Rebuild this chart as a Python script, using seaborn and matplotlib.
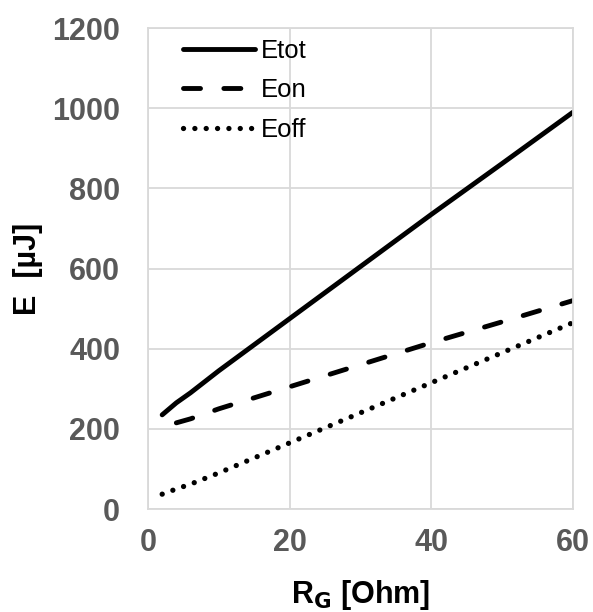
import matplotlib
matplotlib.use('Agg')
import matplotlib.pyplot as plt
import seaborn as sns
import pandas as pd

# values
rg = [2, 4, 6, 10, 20, 30, 40, 50, 60]
e_tot = [235, 265, 290, 345, 475, 605, 735, 862, 990]
rg_on = [4, 6, 10, 20, 30, 40, 50, 60]
e_on = [215, 225, 250, 305, 360, 415, 467, 520]
e_off = [37, 50, 62, 90, 165, 240, 315, 390, 465]

df_tot = pd.DataFrame({'RG': rg, 'E': e_tot})
df_on = pd.DataFrame({'RG': rg_on, 'E': e_on})
df_off = pd.DataFrame({'RG': rg, 'E': e_off})

sns.set_style('white')
plt.rcParams['font.family'] = ['Liberation Sans', 'DejaVu Sans']

fig = plt.figure(figsize=(5.93, 6.12), dpi=100)
ax = fig.add_axes([0.2496, 0.1683, 0.7164, 0.7857])

sns.lineplot(data=df_tot, x='RG', y='E', ax=ax, color='black', label='Etot')
sns.lineplot(data=df_on, x='RG', y='E', ax=ax, color='black', label='Eon')
sns.lineplot(data=df_off, x='RG', y='E', ax=ax, color='black', label='Eoff')

# line styles: solid, long dash, round dots
l_tot, l_on, l_off = ax.lines[:3]
l_tot.set_linewidth(3.5)
l_tot.set_solid_capstyle('round')
l_on.set_linewidth(3.5)
l_on.set_dashes((3.5, 4.8))
l_on.set_dash_capstyle('round')
l_off.set_linewidth(3.8)
l_off.set_dashes((0.01, 2.14))
l_off.set_dash_capstyle('round')

ax.set_xlim(0, 60)
ax.set_ylim(0, 1200)
ax.set_xticks([0, 20, 40, 60])
ax.set_yticks(range(0, 1201, 200))
ax.grid(True, color='#d9d9d9', lw=1.3)
for s in ax.spines.values():
    s.set_color('#d9d9d9')
    s.set_linewidth(1.3)
ax.tick_params(axis='both', length=0, labelsize=22, labelcolor='#595959')
ax.tick_params(axis='x', pad=14)
ax.tick_params(axis='y', pad=20)
for lab in ax.get_xticklabels() + ax.get_yticklabels():
    lab.set_fontweight('bold')

ax.set_xlabel('R$_\\mathbf{G}$ [Ohm]', fontsize=22, fontweight='bold', labelpad=14, color='black')
ax.set_ylabel('E  [µJ]', fontsize=22, fontweight='bold', labelpad=7, color='black')

ax.legend(handles=[l_tot, l_on, l_off], labels=['Etot', 'Eon', 'Eoff'],
          loc='upper left', frameon=False, fontsize=18.5, handlelength=2.8,
          handletextpad=0.22, labelspacing=0.59, labelcolor='black',
          bbox_to_anchor=(0.029, 1.025))

fig.savefig('out.png', dpi=100)
